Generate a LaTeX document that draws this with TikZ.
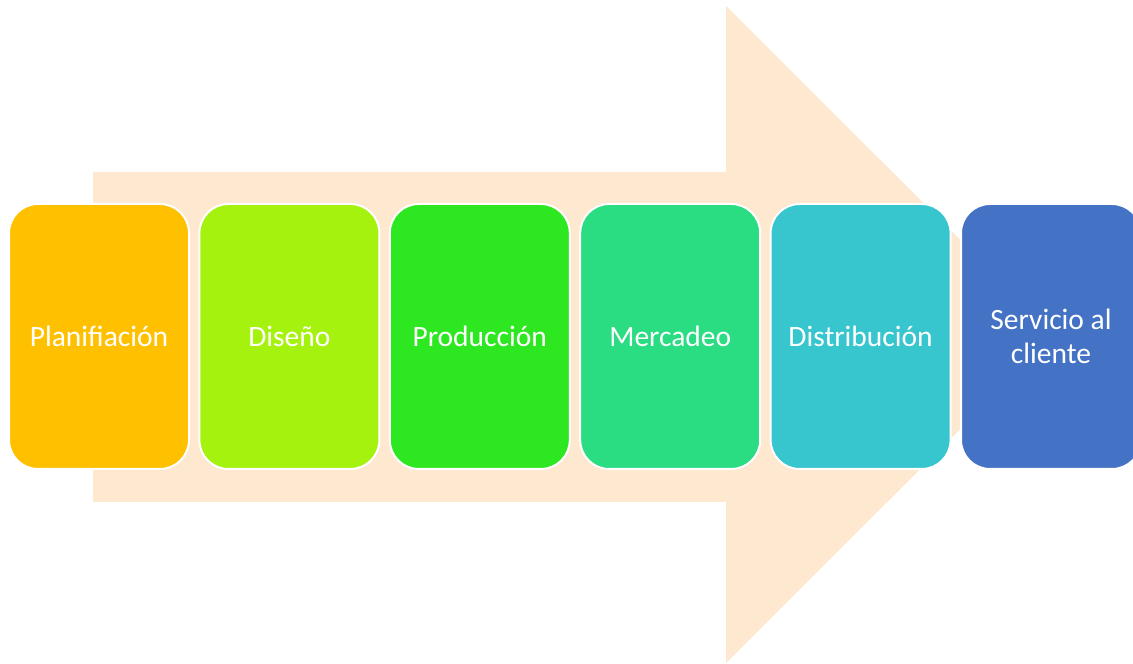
\documentclass[tikz,border=0pt]{standalone}
\usepackage{fontspec}
\setmainfont{Carlito}
\usetikzlibrary{positioning}

\def\flecha{(93,162) -- (93,492) -- (726,492) -- (726,658) -- (1055,329.5) -- (726,1) -- (726,162) -- cycle}
\definecolor{flecha fondo}{HTML}{FEE8CF}
\definecolor{paso1}{HTML}{FFC000}
\definecolor{paso2}{HTML}{A6F20F}
\definecolor{paso3}{HTML}{2DE821}
\definecolor{paso4}{HTML}{2ADC82}
\definecolor{paso5}{HTML}{37C5CE}
\definecolor{paso6}{HTML}{4472C4}
\tikzset{paso/.style={draw=white, line width=2pt, rounded corners=29pt,
    minimum width=180pt, minimum height=265pt, text=white, align=center,
    font=\fontsize{29.5}{34}\selectfont},
  junto/.style={right=8.4pt of #1}}

\begin{document}
\begin{tikzpicture}[x=1pt,y=1pt]
    \useasboundingbox (0,0) rectangle (1133,664);
    \clip (0,0) rectangle (1133,664);
    \fill[flecha fondo] \flecha;
    \node[paso, fill=paso1] (plan) at (99,327.5) {Planifiación};
    \node[paso, fill=paso2, junto=plan] (dise) {Diseño};
    \node[paso, fill=paso3, junto=dise] (prod) {Producción};
    \node[paso, fill=paso4, junto=prod] (merc) {Mercadeo};
    \node[paso, fill=paso5, junto=merc] (dist) {Distribución};
    \node[paso, fill=paso6, junto=dist] (serv) {Servicio al\\cliente};
\end{tikzpicture}
\end{document}
